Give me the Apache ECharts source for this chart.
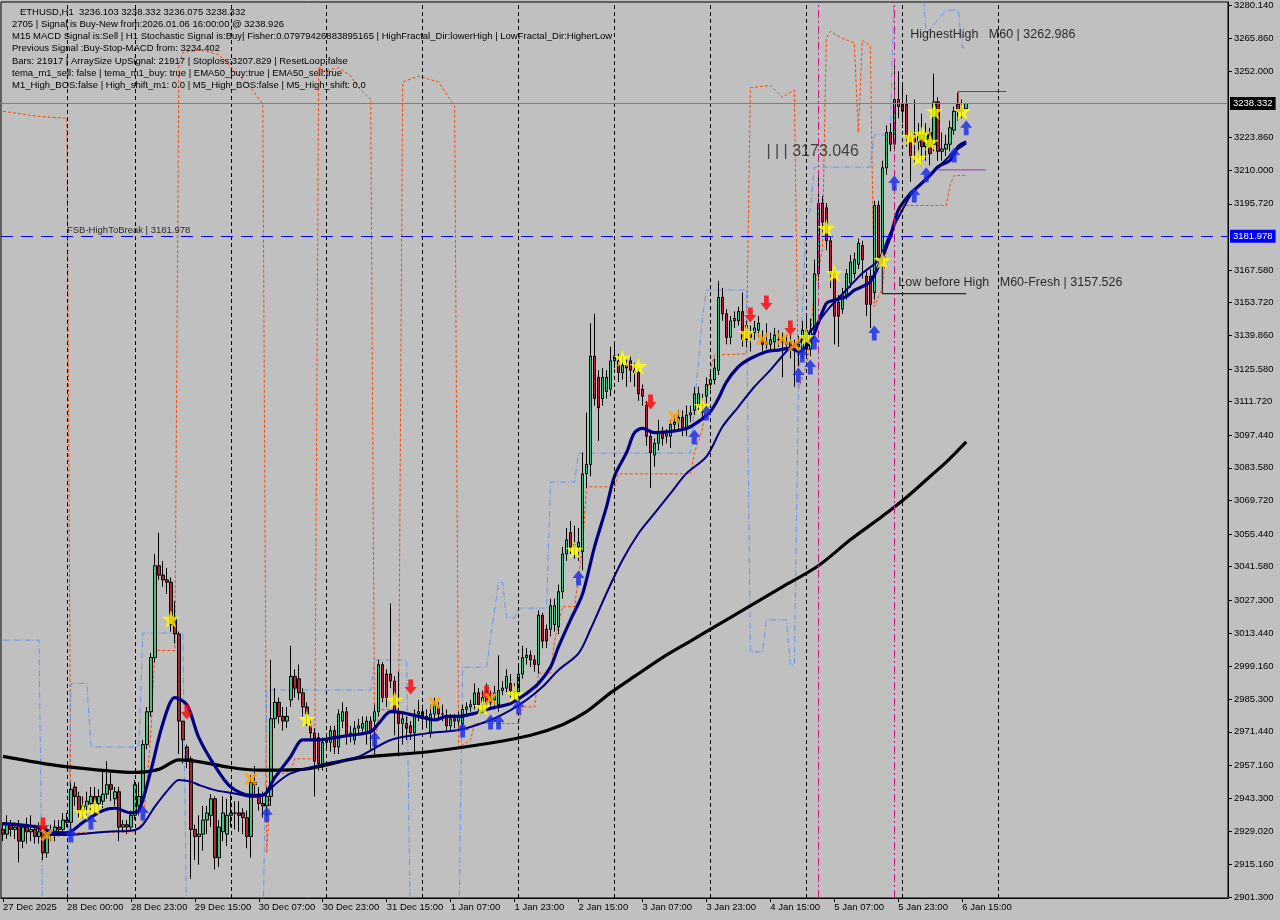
<!DOCTYPE html>
<html><head><meta charset="utf-8">
<script src="https://cdn.jsdelivr.net/npm/echarts@6/dist/echarts.min.js"></script>
<style>html,body{margin:0;padding:0;background:#C0C0C0;}#chart{width:1280px;height:920px;}</style>
</head><body><div id="chart"></div>
<script>
// ---------- DATA ----------
const headerLines = [
  '   ETHUSD,H1  3236.103 3238.332 3236.075 3238.332',
  '2705 | Signal is Buy-New from:2026.01.06 16:00:00 @ 3238.926',
  'M15 MACD Signal is:Sell | H1 Stochastic Signal is:Buy| Fisher:0.07979426883895165 | HighFractal_Dir:lowerHigh | LowFractal_Dir:HigherLow',
  'Previous Signal :Buy-Stop-MACD from: 3234.402',
  'Bars: 21917 | ArraySize UpSignal: 21917 | Stoploss:3207.829 | ResetLoop:false',
  'tema_m1_sell: false | tema_m1_buy: true | EMA50_buy:true | EMA50_sell:true',
  'M1_High_BOS:false | High_shift_m1: 0.0 | M5_High_BOS:false | M5_High_shift: 0.0'
];
const timeLabels = ['27 Dec 2025','28 Dec 00:00','28 Dec 23:00','29 Dec 15:00','30 Dec 07:00','30 Dec 23:00','31 Dec 15:00','1 Jan 07:00','1 Jan 23:00','2 Jan 15:00','3 Jan 07:00','3 Jan 23:00','4 Jan 15:00','5 Jan 07:00','5 Jan 23:00','6 Jan 15:00'];
const labelStep = 16;
const slotCount = 307;
const priceTicks = [3280.140,3265.860,3252.000,3223.860,3210.000,3195.720,3167.580,3153.720,3139.860,3125.580,3111.720,3097.440,3083.580,3069.720,3055.440,3041.580,3027.300,3013.440,2999.160,2985.300,2971.440,2957.160,2943.300,2929.020,2915.160,2901.300];
const priceMin = 2900.88, priceMax = 3281.41;
const bidPrice = 3238.332;
const breakPrice = 3181.978;
const daySeparators = [16,33,57,81,105,129,153,177,201,225,249];
const magentaLines = [204,223];

// [open, high, low, close]
const candlesOHLC = [
[2930,2933,2925,2928],[2928,2936,2926,2932],[2932,2934,2927,2930],[2930,2933,2926,2931],[2932,2934,2916,2925],
[2925,2932,2922,2931],[2931,2935,2924,2929],[2929,2936,2925,2930],[2930,2932,2924,2927],[2927,2933,2924,2929],
[2929,2931,2917,2920],[2920,2931,2918,2928],[2928,2932,2925,2929],[2928,2934,2925,2931],[2931,2934,2927,2930],
[2930,2937,2928,2934],[2934,2937,2931,2933],[2933,2950,2928,2947],[2948,2950,2940,2944],[2944,2946,2935,2938],
[2938,2944,2935,2940],[2940,2946,2936,2942],[2941,2948,2938,2944],[2944,2948,2937,2941],[2941,2947,2939,2944],
[2942,2955,2939,2945],[2945,2959,2943,2949],[2949,2954,2942,2947],[2943,2948,2940,2946],[2946,2948,2925,2931],
[2931,2934,2929,2932],[2932,2934,2928,2931],[2931,2938,2929,2936],[2936,2951,2934,2949],[2940,2950,2936,2944],
[2943,2968,2942,2966],[2966,2982,2964,2980],[2980,3005,2978,3003],[3003,3047,3001,3042],[3042,3056,3036,3038],
[3038,3044,3033,3036],[3036,3041,3030,3035],[3035,3037,3014,3017],[3020,3027,3009,3013],[3013,3014,2962,2976],
[2976,2976,2958,2968],[2965,2966,2956,2960],[2960,2961,2909,2930],[2930,2932,2917,2927],[2927,2936,2915,2928],
[2928,2940,2921,2934],[2934,2940,2928,2937],[2936,2945,2931,2943],[2943,2944,2913,2918],[2918,2934,2914,2931],
[2929,2944,2925,2937],[2928,2943,2923,2936],[2936,2945,2931,2937],[2937,2942,2930,2937],[2937,2942,2929,2936],
[2937,2939,2928,2935],[2935,2938,2922,2927],[2927,2953,2918,2950],[2950,2957,2944,2949],[2945,2948,2938,2941],
[2941,2946,2935,2940],[2940,2948,2936,2944],[2944,3002,2940,2977],[2977,2990,2973,2984],[2984,2986,2975,2978],
[2978,2982,2972,2976],[2976,2982,2973,2978],[2985,3008,2982,2995],[2995,2998,2986,2990],[2994,3000,2985,2988],
[2988,2990,2978,2982],[2982,2984,2974,2979],[2974,2977,2968,2971],[2971,2973,2944,2959],[2969,2971,2955,2958],
[2958,2969,2955,2967],[2967,2971,2964,2968],[2967,2974,2963,2972],[2972,2974,2962,2965],[2965,2981,2962,2979],
[2976,2984,2973,2980],[2980,2982,2966,2970],[2970,2974,2967,2971],[2968,2976,2966,2973],[2973,2977,2970,2974],
[2973,2978,2971,2975],[2971,2978,2966,2976],[2976,2978,2964,2972],[2976,2983,2962,2980],[2980,3002,2978,3000],
[3000,3001,2984,2986],[2996,2998,2982,2986],[2996,3026,2990,2993],[2993,2995,2970,2980],[2980,2997,2961,2975],
[2975,2980,2966,2977],[2975,2978,2968,2973],[2974,2976,2968,2971],[2971,2981,2962,2979],[2979,2985,2976,2980],
[2980,2983,2974,2977],[2977,2981,2973,2978],[2971,2983,2969,2979],[2979,2986,2977,2983],[2982,2984,2976,2979],
[2979,2983,2976,2979],[2978,2981,2972,2974],[2974,2979,2972,2977],[2977,2979,2973,2976],[2976,2980,2974,2978],
[2975,2983,2973,2981],[2981,2984,2979,2982],[2982,2985,2980,2983],[2983,2992,2981,2988],[2988,2990,2980,2983],
[2983,2989,2981,2986],[2989,2992,2980,2984],[2984,2989,2981,2986],[2985,2991,2981,2988],[2983,3004,2980,2989],
[2989,2993,2987,2990],[2990,2998,2988,2995],[2992,2996,2986,2989],[2989,2992,2984,2988],[2988,2999,2985,2996],
[2996,3008,2994,3003],[3003,3007,3000,3004],[3004,3006,2999,3002],[3002,3004,2997,3000],[3000,3023,2996,3021],
[3021,3022,3007,3010],[3015,3017,3007,3010],[3015,3028,3012,3025],[3017,3028,3014,3025],[3016,3034,3013,3031],
[3031,3050,3028,3047],[3047,3058,3044,3053],[3056,3061,3047,3050],[3050,3059,3045,3051],[3050,3058,3044,3052],
[3048,3090,3040,3081],[3081,3107,3075,3085],[3085,3145,3080,3131],[3131,3149,3110,3113],[3122,3125,3095,3109],
[3113,3126,3110,3122],[3116,3125,3113,3122],[3117,3135,3114,3129],[3129,3136,3126,3131],[3129,3132,3120,3124],
[3124,3131,3121,3127],[3127,3130,3118,3126],[3129,3131,3120,3125],[3125,3128,3118,3124],[3124,3126,3112,3115],
[3117,3119,3110,3114],[3110,3112,3093,3097],[3097,3099,3075,3090],[3089,3096,3084,3094],[3094,3104,3091,3099],
[3099,3101,3093,3096],[3097,3100,3094,3098],[3097,3104,3092,3102],[3102,3106,3099,3103],[3103,3108,3100,3105],
[3105,3108,3097,3100],[3100,3110,3097,3106],[3106,3110,3103,3107],[3108,3118,3106,3115],[3110,3118,3108,3115],
[3110,3115,3105,3110],[3114,3122,3111,3119],[3119,3124,3117,3121],[3121,3130,3119,3126],[3125,3163,3123,3156],
[3156,3160,3146,3149],[3149,3151,3136,3139],[3139,3148,3136,3146],[3146,3150,3143,3147],[3146,3152,3144,3150],
[3150,3158,3135,3138],[3144,3146,3135,3138],[3141,3144,3133,3139],[3141,3146,3138,3143],[3142,3148,3139,3145],
[3138,3142,3133,3136],[3136,3145,3134,3137],[3136,3141,3134,3138],[3137,3143,3134,3140],[3138,3142,3135,3138],
[3138,3141,3122,3137],[3137,3140,3133,3136],[3137,3140,3130,3134],[3134,3138,3118,3135],[3135,3140,3127,3136],
[3134,3146,3130,3142],[3142,3148,3130,3134],[3134,3147,3131,3142],[3142,3172,3140,3166],[3166,3207,3163,3196],
[3196,3199,3182,3188],[3194,3196,3176,3180],[3180,3182,3160,3166],[3166,3168,3136,3148],[3154,3157,3135,3148],
[3151,3160,3149,3157],[3157,3168,3155,3166],[3162,3174,3160,3171],[3166,3175,3164,3172],[3170,3181,3168,3179],
[3178,3180,3164,3172],[3165,3167,3148,3153],[3165,3168,3143,3153],[3158,3197,3155,3195],[3195,3197,3170,3173],
[3173,3214,3170,3211],[3211,3229,3208,3226],[3226,3230,3218,3221],[3221,3257,3218,3240],[3240,3252,3232,3237],
[3238,3246,3230,3235],[3238,3242,3220,3224],[3224,3227,3205,3216],[3225,3240,3213,3222],[3222,3230,3215,3225],
[3225,3234,3212,3220],[3220,3230,3214,3226],[3226,3228,3212,3217],[3221,3251,3218,3239],[3239,3241,3214,3218],
[3218,3226,3214,3219],[3219,3225,3216,3221],[3221,3231,3218,3228],[3227,3237,3225,3235],[3238,3243,3231,3235],
[3235,3240,3232,3236],[3236.103,3238.332,3236.075,3238.332]
];

const fastEma = [[0,2932.5],[9,2931],[12,2929],[16,2928.5],[20,2933],[25,2938],[28,2939],[32,2937],[34,2938],[37,2955],[40,2975],[43,2986],[46,2983],[49,2969],[53,2957],[57,2948],[62,2944.5],[65,2944.5],[68,2952],[72,2961],[75,2968],[79,2968],[83,2969],[87,2970],[92,2971.5],[94,2975],[97,2980],[100,2979.5],[104,2978],[108,2976.5],[111,2978],[114,2978],[118,2979.3],[122,2981.4],[127,2983.5],[131,2987.8],[134,2992],[137,2999],[139,3007.6],[142,3019],[145,3030],[148,3050],[151,3067],[153,3080],[156,3090],[158,3098.5],[160,3100.3],[163,3098.5],[167,3099],[171,3100.3],[174,3103.2],[177,3107.5],[179,3113],[181,3120],[184,3126.5],[187,3130],[191,3132.9],[194,3133.6],[197,3134.3],[199,3133],[201,3135],[203,3140.7],[206,3153.4],[208,3154.8],[211,3156.3],[213,3159],[215,3160.5],[217,3162.6],[219,3169],[222,3181.7],[224,3193],[227,3200.1],[229,3203],[232,3207.9],[234,3211.5],[237,3214.3],[239,3220],[241,3222.1]];
const slowEma = [[0,2932.5],[8,2931],[12,2927.6],[16,2927.6],[21,2928.3],[26,2929],[33,2929.8],[35,2932],[38,2939.7],[42,2948.2],[44,2951],[47,2950.3],[49,2948.9],[53,2946.7],[58,2945.3],[62,2943.9],[64,2944],[66,2945.5],[68,2949],[72,2953.8],[81,2958.1],[89,2960.9],[97,2968],[106,2970.8],[114,2972.2],[122,2976.5],[127,2980.7],[131,2985],[135,2990.6],[139,2997.7],[144,3004.8],[147,3015],[151,3030.3],[155,3044.4],[159,3055.7],[163,3064.2],[167,3072.7],[171,3081.2],[176,3088.3],[180,3101],[184,3109.5],[188,3118],[192,3125.1],[196,3133],[198,3135.7],[200,3138],[203,3143.5],[207,3152],[211,3159.1],[215,3166.2],[219,3171.8],[222,3183.2],[225,3193],[228,3201.6],[232,3207.9],[235,3212.9],[238,3217.8],[241,3221.4]];
const longEma = [[0,2961],[12,2957.5],[24,2955.2],[33,2954.2],[39,2955.5],[44,2959.5],[50,2958.5],[57,2956.3],[64,2955.2],[74,2955.4],[89,2960.4],[106,2962.9],[122,2966.7],[132,2970],[140,2974.5],[146,2980],[152,2988],[158,2995],[165,3003],[172,3010],[181,3019],[188,3026],[195,3033],[204,3042],[212,3053],[220,3063],[226,3071],[232,3080],[236,3086],[241,3094.6]];
const orangeLevel = [[0,3235],[8,3233],[16,3232],[17,2928.5],[33,2929],[35,2933],[36,2950],[37,2971],[38,3006],[43,3006],[44,3255],[45,3260],[50,3261],[54,3259],[58,3252],[62,3245],[65,3238],[66,2920],[67,2952],[72,2955],[73,2960],[78,2960],[79,3254],[80,3252],[84,3253.5],[87,3250],[89,3245],[92,3240],[93,2962],[94,2981],[99,2981],[100,3247.4],[104,3250],[109,3247.4],[113,3237],[114,2965],[117,2968],[118,2975],[129,2975],[130,2982],[133,2982],[134,2996.4],[137,2996.4],[138,3010],[140,3024.6],[143,3024.6],[145,3050],[146,3075.5],[153,3075.5],[154,3081],[172,3081],[173,3090],[175,3100],[177,3125],[178,3131.5],[186,3132],[187,3245],[192,3246],[195,3241],[198,3244],[199,3117],[201,3127],[202,3138],[203,3160],[205,3176],[206,3266],[207,3269],[210,3266],[213,3264],[214,3226],[215,3265],[217,3263],[218,3152],[220,3160],[221,3176],[223,3185],[225,3195],[236,3195],[237,3204],[238,3207.8],[241,3207.8]];
const blueLevel = [[0,3010.4],[9,3010.4],[10,2880],[16,2880],[17,2992],[21,2992],[22,2965],[34,2965],[35,3013.4],[45,3013.4],[46,2880],[65,2880],[66,2989.2],[92,2989.2],[93,3002],[101,3002],[102,2880],[114,2880],[115,2998.9],[121,2998.9],[122,3011.7],[124,3035],[125,3035],[126,3019.8],[128,3019.8],[129,3024],[136,3024],[137,3077.5],[143,3077.5],[144,3089.8],[172,3089.8],[173,3110],[175,3147],[176,3159.1],[186,3159.1],[187,3005.4],[190,3005.4],[191,3019],[196,3019],[197,2999.8],[198,3000],[199,3115],[200,3150],[201,3190],[202,3193],[203,3211.3],[217,3211.3],[218,3225],[222,3225],[223,3290],[230,3290],[231,3268],[236,3278],[239,3278],[240,3262],[241,3262]];
const darkRedLevel = [[239,3238.3],[239,3243.4],[251,3243.4]];
const purpleLevel = [[234,3210.1],[246,3210.1]];
const lowBeforeHighLevel = [[220,3168.9],[220,3157.526],[241,3157.526]];

const starPoints = [[20,2937.4],[23,2939.5],[42,3019.4],[76,2976.9],[98,2985],[120,2982],[128,2987.5],[143,3048.7],[155,3130.2],[159,3126.8],[175,3109.8],[186,3140.8],[201,3139.1],[206,3185.4],[208,3166.3],[220,3171.8],[227,3224.1],[230,3225.3],[232,3222],[229,3215.2],[233,3235.1],[240,3235.1]];
const upArrows = [[17,2927.6],[22,2933.2],[35,2937],[66,2936.2],[93,2968.4],[115,2972.2],[122,2975.6],[124,2975.6],[129,2982],[144,3036.8],[173,3096.7],[176,3106.9],[199,3123],[200,3131.5],[202,3126.4],[203,3137],[218,3140.8],[223,3204.5],[228,3199.4],[231,3208],[238,3216.4],[241,3228]];
const downArrows = [[10,2931.9],[46,2979.9],[102,2990.5],[121,2988],[162,3111.5],[187,3148.5],[191,3153.6],[197,3143]];
const crossPoints = [[11,2927.6],[62,2951.4],[108,2983.7],[122,2985.4],[168,3105.2],[190,3138.3],[195,3138.3],[198,3135.7]];

const annotations = [
  {at:[227,3267.4], text:'HighestHigh   M60 | 3262.986', size:12.5},
  {at:[191,3217.7], text:'| | | 3173.046', size:16},
  {at:[224,3162.1], text:'Low before High   M60-Fresh | 3157.526', size:12.5},
  {at:[16,3184.6], text:'FSB-HighToBreak | 3181.978', size:9.5}
];

// ---------- CHART ----------
const FONT = "'Liberation Sans', Arial, sans-serif";
const categories = Array.from({length: slotCount}, (_, i) => String(i));
const candleData = candlesOHLC.map(r => [r[0], r[3], r[2], r[1]]);
const showLabelAt = i => i % labelStep === 0 && i / labelStep < timeLabels.length;

const starPath = 'path://M50,0 L61,35 L98,35 L68,57 L79,91 L50,70 L21,91 L32,57 L2,35 L39,35 Z';
const upPath = 'path://M50,0 L100,50 L70,50 L70,100 L30,100 L30,50 L0,50 Z';
const downPath = 'path://M30,0 L70,0 L70,50 L100,50 L50,100 L0,50 L30,50 Z';
const xPath = 'path://M0,18 L18,0 L50,32 L82,0 L100,18 L68,50 L100,82 L82,100 L50,68 L18,100 L0,82 L32,50 Z';

const sepLines = daySeparators.map(i => ({xAxis: i, lineStyle: {color:'#000', type:[4,3], width:1}}));
const magLines = magentaLines.map(i => ({xAxis: i, lineStyle: {color:'#C71585', type:[8,3,2,3], width:1}}));

const chart = echarts.init(document.getElementById('chart'), null, {renderer:'canvas'});
chart.setOption({
  animation: false,
  backgroundColor: '#C0C0C0',
  title: {
    text: headerLines.join('\n'),
    left: 7, top: 1,
    textStyle: {fontFamily: FONT, fontSize: 9.5, fontWeight: 'normal', color: '#000', lineHeight: 12.2}
  },
  grid: {left: 1, right: 52, top: 2, bottom: 22, show: true, borderColor: '#000', borderWidth: 1, backgroundColor: 'transparent'},
  xAxis: {
    type: 'category', data: categories, boundaryGap: true,
    axisLine: {lineStyle: {color: '#000'}},
    axisTick: {show: true, alignWithLabel: true, interval: (i) => showLabelAt(i), length: 4, lineStyle: {color:'#000'}},
    axisLabel: {interval: (i) => showLabelAt(i), formatter: (v, i) => showLabelAt(i) ? timeLabels[i / labelStep] : '',
      align: 'left', margin: 4, fontFamily: FONT, fontSize: 9.5, color: '#000'},
    splitLine: {show: false}
  },
  yAxis: {
    type: 'value', position: 'right', min: priceMin, max: priceMax,
    axisLine: {show: true, lineStyle: {color: '#000'}},
    axisTick: {show: true, length: 4, customValues: priceTicks, lineStyle: {color:'#000'}},
    axisLabel: {customValues: priceTicks, formatter: v => v.toFixed(3), margin: 6, fontFamily: FONT, fontSize: 9.5, color: '#000'},
    splitLine: {show: false}
  },
  series: [
    {type: 'line', name: 'orangeLevel', data: orangeLevel, showSymbol: false, symbol: 'none', z: 1,
     lineStyle: {color: '#FF4500', width: 1, type: [3,2]},
     markLine: {symbol: ['none','none'], silent: true, label: {show: false}, data: sepLines.concat(magLines)}},
    {type: 'line', name: 'blueLevel', data: blueLevel, showSymbol: false, symbol: 'none', z: 1,
     lineStyle: {color: '#6495ED', width: 1, type: [6,2,1,2]}},
    {type: 'candlestick', name: 'ETHUSD', data: candleData, barWidth: 3, z: 2,
     itemStyle: {color: '#3BC47A', color0: '#B22234', borderColor: '#000', borderColor0: '#000', borderWidth: 1},
     markLine: {symbol: ['none','none'], silent: true, data: [
       {yAxis: bidPrice, lineStyle: {color: '#7F7F7F', type: 'solid', width: 1},
        label: {show: true, position: 'end', distance: 2, formatter: bidPrice.toFixed(3), backgroundColor: '#000', color: '#fff', padding: [2,3,1,3], fontFamily: FONT, fontSize: 9.5}},
       {yAxis: breakPrice, lineStyle: {color: '#0000FF', type: [12,8], width: 1},
        label: {show: true, position: 'end', distance: 2, formatter: breakPrice.toFixed(3), backgroundColor: '#0000FF', color: '#fff', padding: [2,3,1,3], fontFamily: FONT, fontSize: 9.5}}
     ]}},
    {type: 'line', name: 'longEma', data: longEma, showSymbol: false, symbol: 'none', smooth: 0.3, z: 3, lineStyle: {color: '#000', width: 3.2}},
    {type: 'line', name: 'slowEma', data: slowEma, showSymbol: false, symbol: 'none', smooth: 0.3, z: 3, lineStyle: {color: '#000080', width: 2}},
    {type: 'line', name: 'fastEma', data: fastEma, showSymbol: false, symbol: 'none', smooth: 0.3, z: 3, lineStyle: {color: '#000080', width: 3.2}},
    {type: 'line', name: 'darkRed', data: darkRedLevel, showSymbol: false, symbol: 'none', z: 3, lineStyle: {color: '#A52A2A', width: 1}},
    {type: 'line', name: 'purple', data: purpleLevel, showSymbol: false, symbol: 'none', z: 3, lineStyle: {color: '#9932CC', width: 1}},
    {type: 'line', name: 'lowBeforeHigh', data: lowBeforeHighLevel, showSymbol: false, symbol: 'none', z: 3, lineStyle: {color: '#000', width: 1}},
    {type: 'scatter', name: 'stars', data: starPoints, symbol: starPath, symbolSize: 18, z: 6, itemStyle: {color: '#FFFF00'}},
    {type: 'scatter', name: 'up', data: upArrows, symbol: upPath, symbolSize: [12,15], z: 6, itemStyle: {color: '#1428E6'}},
    {type: 'scatter', name: 'down', data: downArrows, symbol: downPath, symbolSize: [12,15], z: 6, itemStyle: {color: '#FF0000'}},
    {type: 'scatter', name: 'cross', data: crossPoints, symbol: xPath, symbolSize: 13, z: 6, itemStyle: {color: '#FFA500'}},
    {type: 'scatter', name: 'texts', symbolSize: 0, z: 7, silent: true,
     data: annotations.map(a => ({value: a.at, label: {show: true, position: 'right', distance: 0, formatter: a.text,
       fontFamily: FONT, fontSize: a.size, color: a.size > 14 ? '#222' : '#000'}}))}
  ]
});
</script></body></html>
